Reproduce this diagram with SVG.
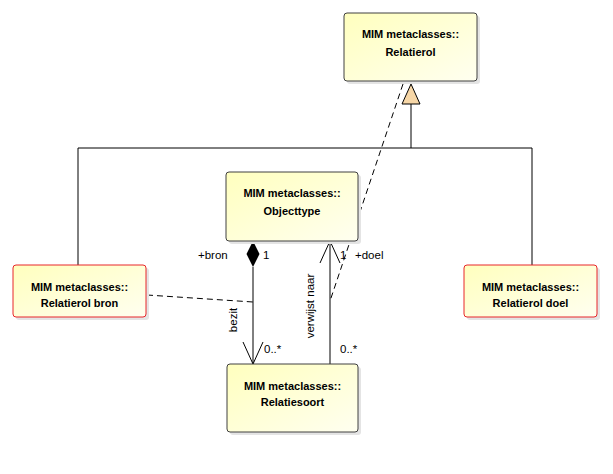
<svg xmlns="http://www.w3.org/2000/svg" width="613" height="474" viewBox="0 0 613 474">
<defs>
<linearGradient id="g" x1="0" y1="0" x2="1" y2="1">
<stop offset="0" stop-color="#FFFFBE"/>
<stop offset="1" stop-color="#FFFFF0"/>
</linearGradient>
<style>
.box{fill:url(#g);stroke:#404040;stroke-width:1}
.red{fill:url(#g);stroke:#E8262A;stroke-width:1}
.sh{fill:#E4E4E4}
.t{font-family:"Liberation Sans",Arial,sans-serif;font-size:11px;font-weight:bold;fill:#000;text-anchor:middle}
.l{font-family:"Liberation Sans",Arial,sans-serif;font-size:11.5px;fill:#000}
.ln{stroke:#000;stroke-width:1;fill:none}
.d{stroke:#000;stroke-width:1;fill:none;stroke-dasharray:6,4}
</style>
</defs>
<rect width="613" height="474" fill="#fff"/>
<g id="connectors">
<path class="ln" d="M411,104 V148 M78,148 H532 M78,148 V265 M532,148 V265"/>
<polygon points="411,84 402,104 420,104" fill="#F7D7A7" stroke="#000"/>
<path class="d" d="M403,84 L330,301"/>
<path class="d" d="M147,295 L253,302"/>
<path class="ln" d="M253,267 V364 M243,342 L253,364 L263,342"/>
<polygon points="253,241 259.5,254 253,267 246.5,254" fill="#000"/>
<path class="ln" d="M330,364 V241 M320,263 L330,241 L340,263"/>
<text class="l" x="198" y="259">+bron</text>
<text class="l" x="263" y="259">1</text>
<text class="l" x="340" y="259">1</text>
<text class="l" x="355" y="259">+doel</text>
<text class="l" x="264" y="353">0..*</text>
<text class="l" x="340" y="353">0..*</text>
<text class="l" transform="translate(237,320) rotate(-90)" text-anchor="middle">bezit</text>
<text class="l" transform="translate(314,306) rotate(-90)" text-anchor="middle">verwijst naar</text>
</g>
<g id="relatierol">
<rect class="sh" x="347" y="16" width="133" height="68" rx="3"/>
<rect class="box" x="344" y="13" width="133" height="68" rx="3"/>
<text class="t" x="410.5" y="38">MIM metaclasses::</text>
<text class="t" x="410.5" y="56">Relatierol</text>
</g>
<g id="objecttype">
<rect class="sh" x="229" y="175" width="132" height="69" rx="3"/>
<rect class="box" x="226" y="172" width="132" height="69" rx="3"/>
<text class="t" x="292" y="197">MIM metaclasses::</text>
<text class="t" x="292" y="215">Objecttype</text>
</g>
<g id="relatierol-bron">
<rect class="sh" x="16" y="268" width="133" height="52" rx="3"/>
<rect class="red" x="13" y="265" width="133" height="52" rx="3"/>
<text class="t" x="79.5" y="291">MIM metaclasses::</text>
<text class="t" x="79.5" y="307">Relatierol bron</text>
</g>
<g id="relatierol-doel">
<rect class="sh" x="467" y="268" width="133" height="52" rx="3"/>
<rect class="red" x="464" y="265" width="133" height="52" rx="3"/>
<text class="t" x="530.5" y="291">MIM metaclasses::</text>
<text class="t" x="530.5" y="307">Relatierol doel</text>
</g>
<g id="relatiesoort">
<rect class="sh" x="230" y="367" width="131" height="68" rx="3"/>
<rect class="box" x="227" y="364" width="131" height="68" rx="3"/>
<text class="t" x="292.5" y="390">MIM metaclasses::</text>
<text class="t" x="292.5" y="406">Relatiesoort</text>
</g>
</svg>
